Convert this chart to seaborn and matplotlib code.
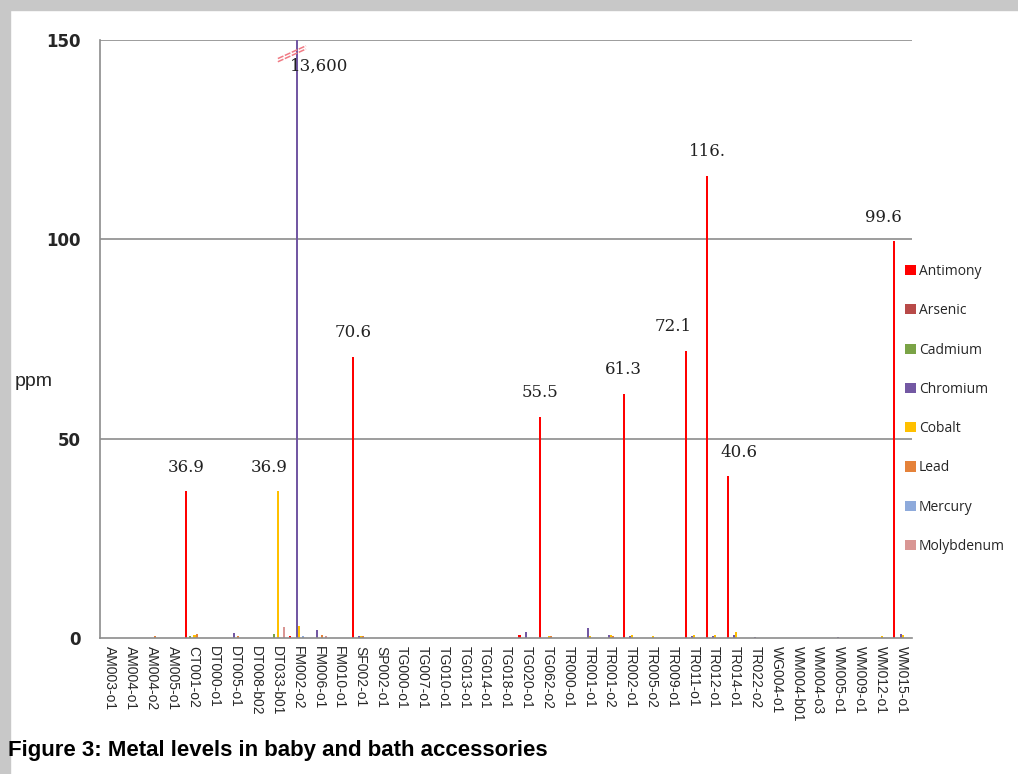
import numpy as np
import pandas as pd
import matplotlib
matplotlib.use('Agg')
import matplotlib.pyplot as plt
import seaborn as sns
from matplotlib.patches import Rectangle

# Sample codes (x axis)
samples = ['AM003-o1', 'AM004-o1', 'AM004-o2', 'AM005-o1', 'CT001-o2', 'DT000-o1',
           'DT005-o1', 'DT008-b02', 'DT033-b01', 'FM002-o2', 'FM006-o1', 'FM010-o1',
           'SF002-o1', 'SP002-o1', 'TG000-o1', 'TG007-o1', 'TG010-o1', 'TG013-o1',
           'TG014-o1', 'TG018-o1', 'TG020-o1', 'TG062-o2', 'TR000-o1', 'TR001-o1',
           'TR001-o2', 'TR002-o1', 'TR005-o2', 'TR009-o1', 'TR011-o1', 'TR012-o1',
           'TR014-o1', 'TR022-o2', 'WG004-o1', 'WM004-b01', 'WM004-o3', 'WM005-o1',
           'WM009-o1', 'WM012-o1', 'WM015-o1']

metals = ['Antimony', 'Arsenic', 'Cadmium', 'Chromium', 'Cobalt', 'Lead',
          'Mercury', 'Molybdenum']
colors = ['#ff0000', '#b84a48', '#7aa346', '#7358a3', '#ffc000', '#e5823a',
          '#8eaadb', '#d99694']

# ppm values (0 = not detected / not visible)
antimony = [0, 0, 0, 0, 36.9, 0, 0, 0, 0, 0.5, 0, 0, 70.6, 0, 0, 0, 0, 0, 0, 0,
            0.6, 55.5, 0, 0, 0, 61.3, 0, 0, 72.1, 116, 40.6, 0, 0, 0, 0, 0, 0, 0, 99.6]
arsenic = [0] * 39
cadmium = [0, 0, 0, 0, 0.5, 0, 0, 0, 1.0, 0, 0, 0, 0, 0, 0, 0, 0, 0, 0, 0,
           0, 0, 0, 0, 0, 0, 0, 0, 0, 0, 0, 0, 0, 0, 0, 0, 0, 0, 0]
chromium = [0, 0, 0, 0, 0, 0, 1.2, 0, 0, 13600, 2.0, 0, 0.5, 0, 0, 0, 0, 0, 0, 0,
            1.4, 0, 0, 2.5, 0.8, 0.5, 0, 0, 0.5, 0.5, 0.6, 0.3, 0, 0, 0, 0.3, 0, 0, 1.0]
cobalt = [0, 0, 0, 0, 0.6, 0, 0, 0, 36.9, 3.0, 0, 0, 0.4, 0, 0, 0, 0, 0, 0, 0,
          0, 0.5, 0, 0.4, 0.7, 0.6, 0.4, 0, 0.6, 0.6, 1.5, 0, 0, 0, 0, 0, 0, 0.4, 0.8]
lead = [0, 0, 0.5, 0, 0.9, 0, 0.5, 0, 0, 0, 0.6, 0, 0.4, 0, 0, 0, 0, 0, 0, 0,
        0, 0.5, 0, 0, 0.5, 0, 0, 0, 0, 0, 0, 0, 0, 0, 0, 0, 0, 0, 0]
mercury = [0, 0, 0, 0, 0, 0, 0, 0, 0, 0.4, 0, 0, 0, 0, 0, 0, 0, 0, 0, 0,
           0, 0, 0, 0, 0, 0, 0, 0, 0, 0, 0, 0, 0, 0, 0, 0, 0, 0, 0]
molybdenum = [0, 0, 0, 0, 0, 0, 0, 0, 2.8, 0, 0.4, 0, 0, 0, 0, 0, 0, 0, 0, 0,
              0, 0, 0, 0, 0, 0, 0, 0, 0, 0, 0, 0, 0, 0, 0, 0, 0, 0, 0]

# value labels: (sample, metal, text, dx in points)
labels = [('CT001-o2', 'Antimony', '36.9', 0),
          ('DT033-b01', 'Cobalt', '36.9', -6),
          ('SF002-o1', 'Antimony', '70.6', 0),
          ('TG062-o2', 'Antimony', '55.5', 0),
          ('TR002-o1', 'Antimony', '61.3', 0),
          ('TR011-o1', 'Antimony', '72.1', -9),
          ('TR012-o1', 'Antimony', '116.', 0),
          ('TR014-o1', 'Antimony', '40.6', 8),
          ('WM015-o1', 'Antimony', '99.6', -8)]

series = [antimony, arsenic, cadmium, chromium, cobalt, lead, mercury, molybdenum]
df = pd.concat([pd.DataFrame({'sample': samples, 'metal': m, 'ppm': v})
                for m, v in zip(metals, series)], ignore_index=True)

sns.set_style('white')
fig = plt.figure(figsize=(10.18, 7.74), dpi=100)
ax = fig.add_axes([0.098, 0.176, 0.798, 0.772])

sns.barplot(data=df, x='sample', y='ppm', hue='metal', hue_order=metals,
            palette=colors, width=0.8, saturation=1, ax=ax, legend=True,
            linewidth=0)

ax.set_ylim(0, 150)
ax.set_xlim(-0.5, len(samples) - 0.5)
ax.set_yticks([0, 50, 100, 150])
ax.set_yticklabels(['0', '50', '100', '150'], fontsize=12, fontweight='bold',
                   family='DejaVu Sans')
ax.tick_params(axis='y', length=0, pad=14)
ax.tick_params(axis='x', length=0, pad=6)
ax.set_xticks(range(len(samples)))
ax.set_xticklabels(samples, rotation=270, fontsize=10, family='Liberation Sans')
ax.set_xlabel('')
ax.set_ylabel('')
for y in [50, 100, 150]:
    ax.axhline(y, color='#8c8c8c', lw=1.2, zorder=0)
for side in ['top', 'right']:
    ax.spines[side].set_visible(False)
for side in ['left', 'bottom']:
    ax.spines[side].set_color('#8c8c8c')
    ax.spines[side].set_linewidth(1.2)

fig.text(0.014, 0.507, 'ppm', fontsize=14, family='Liberation Sans',
         va='center', ha='left')

# bar positions for labels
w = 0.8 / len(metals)
def bar_x(sample, metal):
    return samples.index(sample) - 0.4 + w * (metals.index(metal) + 0.5)

vals = dict(zip(metals, series))
for s, m, txt, dx in labels:
    v = vals[m][samples.index(s)]
    ax.annotate(txt, (bar_x(s, m), v), xytext=(dx, 11), textcoords='offset points',
                ha='center', va='bottom', fontsize=12, family='DejaVu Serif',
                color='#222222')

# off-scale chromium bar
xc = bar_x('FM002-o2', 'Chromium')
ax.annotate('13,600', (xc, 150), xytext=(-5, -19), textcoords='offset points',
            ha='left', va='center', fontsize=12, family='DejaVu Serif',
            color='#222222', annotation_clip=False)
for off in [0.4, -0.4]:
    ax.plot([xc - 0.9, xc + 0.45], [145.0 + off, 148.2 + off], color='#f07a84',
            lw=1.1, ls=(0, (4, 1)), clip_on=False, zorder=5)

leg = ax.legend(loc='upper left', bbox_to_anchor=(0.985, 0.635), frameon=False,
                fontsize=10, handlelength=0.75, handleheight=0.75,
                handletextpad=0.2, labelspacing=1.75, borderaxespad=0)
for t in leg.get_texts():
    t.set_family('Open Sans')

fig.text(0.008, 0.031, 'Figure 3: Metal levels in baby and bath accessories',
         fontsize=16, fontweight='bold', family='Liberation Sans', ha='left',
         va='center', color='black')

# picture frame
fig.patches.append(Rectangle((0, 0.987), 1, 0.013, transform=fig.transFigure,
                             color='#c8c8c8', zorder=-1))
fig.patches.append(Rectangle((0, 0), 0.01, 1, transform=fig.transFigure,
                             color='#c8c8c8', zorder=-1))

fig.savefig('out.png', dpi=100)
